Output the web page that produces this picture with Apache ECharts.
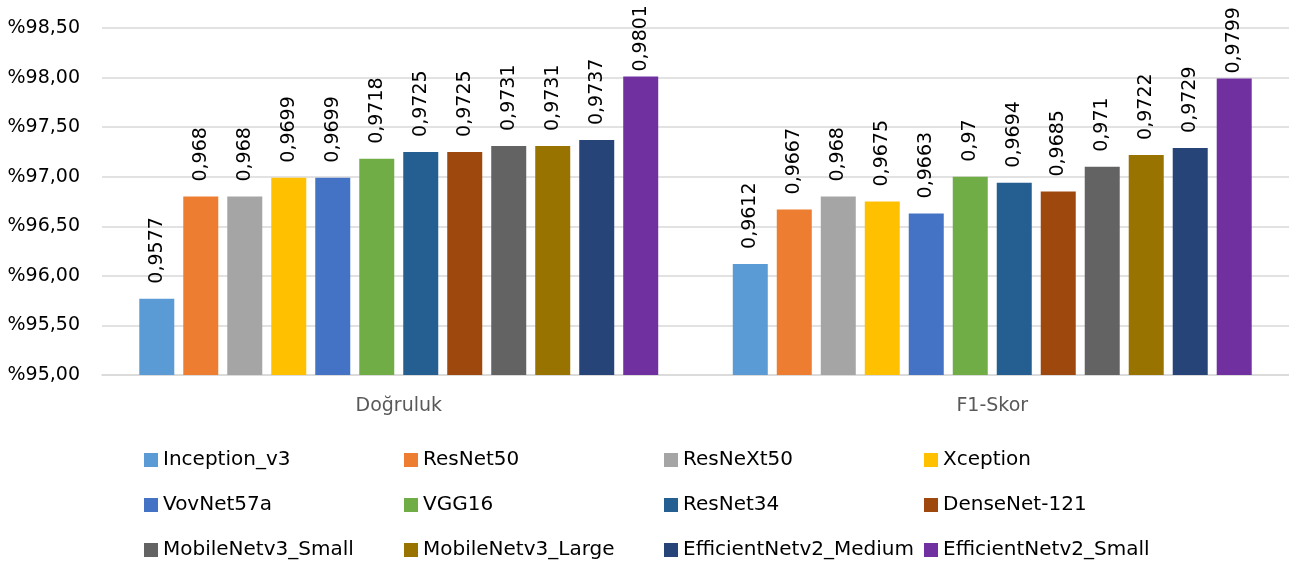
<!DOCTYPE html>
<html>
<head>
<meta charset="utf-8">
<style>
  html, body { margin: 0; padding: 0; background: #fff; }
  #chart { width: 1289px; height: 562px; }
</style>
<script src="https://cdn.jsdelivr.net/npm/echarts@6/dist/echarts.min.js"></script>
</head>
<body>
<div id="chart"></div>
<script>
// Metric groups on the x axis
const categories = ['Doğruluk', 'F1-Skor'];

// Model names (one bar series each)
const models = [
  'Inception_v3', 'ResNet50', 'ResNeXt50', 'Xception',
  'VovNet57a', 'VGG16', 'ResNet34', 'DenseNet-121',
  'MobileNetv3_Small', 'MobileNetv3_Large', 'EfficientNetv2_Medium', 'EfficientNetv2_Small'
];

// Scores per model: [Doğruluk, F1-Skor]
const accuracy = [0.9577, 0.968, 0.968, 0.9699, 0.9699, 0.9718, 0.9725, 0.9725, 0.9731, 0.9731, 0.9737, 0.9801];
const f1Score  = [0.9612, 0.9667, 0.968, 0.9675, 0.9663, 0.97, 0.9694, 0.9685, 0.971, 0.9722, 0.9729, 0.9799];

// Y axis range in percent
const yMin = 95;
const yMax = 98.5;
const yStep = 0.5;

const colors = [
  '#5B9BD5', '#ED7D31', '#A5A5A5', '#FFC000',
  '#4472C4', '#70AD47', '#255E91', '#9E480E',
  '#636363', '#997300', '#264478', '#7030A0'
];

const FONT = '"DejaVu Sans", sans-serif';

const series = models.map((name, i) => {
  const raw = [accuracy[i], f1Score[i]];
  // the tallest bars sit right under the top edge, so their labels hug the bar
  const labelGap = i === models.length - 1 ? 5 : 15;
  return {
    name: name,
    type: 'bar',
    barWidth: 35,
    barGap: '25.7%',
    itemStyle: { color: colors[i] },
    data: raw.map(v => +(v * 100).toFixed(4)),
    label: {
      show: true,
      position: 'top',
      rotate: 90,
      align: 'left',
      verticalAlign: 'middle',
      distance: labelGap,
      color: '#000',
      fontFamily: FONT,
      fontSize: 19,
      formatter: p => String(raw[p.dataIndex]).replace('.', ',')
    }
  };
});

const chart = echarts.init(document.getElementById('chart'), null, { renderer: 'canvas' });
chart.setOption({
  animation: false,
  color: colors,
  grid: { left: 102, right: 0, top: 28, bottom: 187, containLabel: false },
  legend: {
    data: models,
    left: 144,
    top: 440,
    width: 1040,
    padding: 0,
    itemGap: 5,
    itemWidth: 14,
    itemHeight: 14,
    icon: 'rect',
    textStyle: {
      fontFamily: FONT,
      fontSize: 20,
      color: '#000',
      width: 236,
      height: 40,
      lineHeight: 40,
      overflow: 'none'
    }
  },
  xAxis: {
    type: 'category',
    data: categories,
    axisLine: { lineStyle: { color: '#d9d9d9', width: 1.5 } },
    axisTick: { show: false },
    axisLabel: { margin: 22, color: '#595959', fontFamily: FONT, fontSize: 19 }
  },
  yAxis: {
    type: 'value',
    min: yMin,
    max: yMax,
    interval: yStep,
    axisLine: { show: false },
    axisTick: { show: false },
    splitLine: { lineStyle: { color: '#d9d9d9', width: 1.5 } },
    axisLabel: {
      margin: 22,
      color: '#000',
      fontFamily: FONT,
      fontSize: 19,
      formatter: v => '%' + v.toFixed(2).replace('.', ',')
    }
  },
  series: series
});
</script>
</body>
</html>
